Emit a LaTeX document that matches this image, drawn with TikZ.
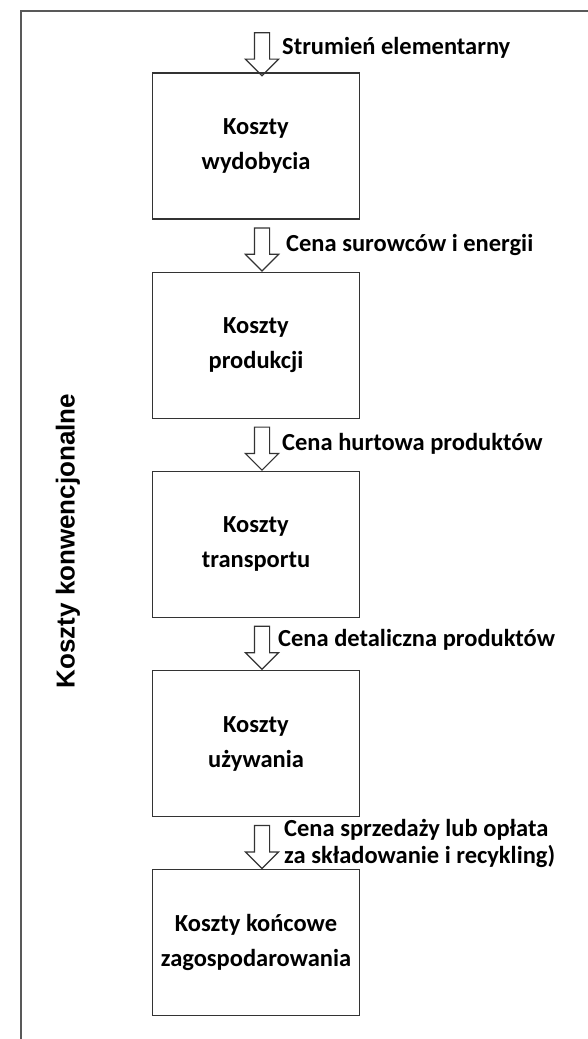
\documentclass[tikz,border=0pt]{standalone}
\usepackage{fontspec}
\setmainfont{Carlito}
\newfontfamily\bokfont{Liberation Sans}
\usetikzlibrary{positioning,shapes.arrows,calc}

\tikzset{
  koszt/.style={draw=black!80, line width=1.2pt, minimum width=207pt, minimum height=146pt,
    align=center, inner sep=0pt, font=\bfseries\fontsize{24.5}{35}\selectfont},
  strzalka/.style={single arrow, draw=black!80, line width=1.2pt, rotate=-90,
    minimum height=43pt, inner xsep=0pt, inner ysep=7pt, single arrow head extend=9pt},
  cena/.style={anchor=west, align=left, inner sep=0pt, font=\bfseries\fontsize{24.5}{27}\selectfont}
}

\begin{document}
\begin{tikzpicture}[x=1pt, y=-1pt]
    \useasboundingbox (0,0) rectangle (588,1039);
    \draw[black!65, line width=1.3pt] (588,11) -- (21,11) -- (21,1039);
    % etapy
    \node[koszt] (wyd) at (256,146) {Koszty\\wydobycia};
    \node[koszt, below=52pt of wyd] (prod) {Koszty\\produkcji};
    \node[koszt, below=52pt of prod] (trans) {Koszty\\transportu};
    \node[koszt, below=52pt of trans] (uzyw) {Koszty\\używania};
    \node[koszt, below=52pt of uzyw] (konc) {Koszty końcowe\\zagospodarowania};
    % strzalki
    \node[strzalka] (s1) at ($(wyd.north)+(6,-22)$) {};
    \node[strzalka] (s2) at ($(wyd.south)!.5!(prod.north)+(6,0)$) {};
    \node[strzalka] (s3) at ($(prod.south)!.5!(trans.north)+(6,0)$) {};
    \node[strzalka] (s4) at ($(trans.south)!.5!(uzyw.north)+(6,0)$) {};
    \node[strzalka] (s5) at ($(uzyw.south)!.5!(konc.north)+(6,0)$) {};
    \node[cena] (c1) at ($(s1.center)+(20,-3)$) {Strumień elementarny};
    \node[cena] (c2) at ($(s2.center)+(24,-1)$) {Cena surowców i energii};
    \node[cena] (c3) at ($(s3.center)+(20,-1)$) {Cena hurtowa produktów};
    \node[cena] (c4) at ($(s4.center)+(16,-4)$) {Cena detaliczna produktów};
    \node[cena] (c5) at ($(s5.center)+(22,0)$) {Cena sprzedaży lub opłata\\za składowanie i recykling)};
    % opis z boku
    \node[rotate=90, font=\bokfont\bfseries\fontsize{26}{30}\selectfont] (bok) at (68,541) {Koszty konwencjonalne};
\end{tikzpicture}
\end{document}
